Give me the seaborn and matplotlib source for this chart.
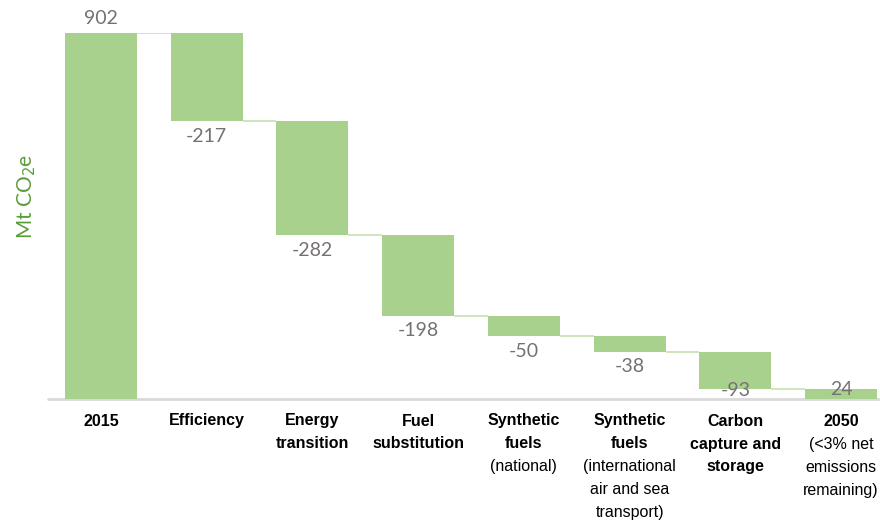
import numpy as np
import pandas as pd
import matplotlib
matplotlib.use("Agg")
import matplotlib.pyplot as plt
import matplotlib.transforms as mtransforms
import seaborn as sns

# ---- data ----
categories = ["2015", "Efficiency", "Energy transition", "Fuel substitution",
              "Synthetic fuels (national)",
              "Synthetic fuels (international air and sea transport)",
              "Carbon capture and storage", "2050"]
values = [902, -217, -282, -198, -50, -38, -93, 24]
label_bold = ["2015", "Efficiency", "Energy\ntransition", "Fuel\nsubstitution",
              "Synthetic\nfuels", "Synthetic\nfuels", "Carbon\ncapture and\nstorage", "2050"]
label_normal = ["", "", "", "", "(national)", "(international\nair and sea\ntransport)",
                "", "(<3% net\nemissions\nremaining)"]
total_flags = [True, False, False, False, False, False, False, True]

# ---- waterfall geometry from data ----
bottoms, heights, levels = [], [], []
running = 0
for v, is_total in zip(values, total_flags):
    if is_total:
        bottoms.append(0); heights.append(v); running = v
    else:
        new = running + v
        bottoms.append(min(running, new)); heights.append(abs(v)); running = new
    levels.append(running)

df = pd.DataFrame({"cat": categories, "height": heights})

sns.set_style("white")
plt.rcParams["font.family"] = ["Liberation Sans", "DejaVu Sans"]

W, H = 880, 523
fig = plt.figure(figsize=(W / 100, H / 100), dpi=100)
ax_left, ax_right = 48, 894
ax_top, ax_bot = 33, 399
ax = fig.add_axes([ax_left / W, 1 - ax_bot / H, (ax_right - ax_left) / W, (ax_bot - ax_top) / H])

bar_color = "#a9d18e"
sns.barplot(data=df, x="cat", y="height", order=categories, bottom=bottoms,
            color=bar_color, saturation=1, width=0.68, errorbar=None, ax=ax,
            edgecolor="none", linewidth=0)

ax.set_xlim(-0.5, len(categories) - 0.5)
ax.set_ylim(0, values[0])
for s in ax.spines.values():
    s.set_visible(False)
ax.set_yticks([])
ax.set_xticks(range(len(categories)))
ax.set_xticklabels([""] * len(categories))
ax.tick_params(axis="x", length=0)
ax.set_xlabel("")
ax.set_ylabel("")

# baseline
ax.axhline(0, color="#d9d9d9", lw=2, clip_on=False, zorder=0)

# connectors
hw = 0.34
for i in range(len(categories) - 1):
    ax.plot([i + hw, i + 1 - hw], [levels[i], levels[i]], color="#c5e0b4", lw=1.2,
            zorder=1, solid_capstyle="butt")

# value labels
px_per_unit = (ax_bot - ax_top) / values[0]
vfont = ["Lato", "DejaVu Sans"]
for i, (v, b, h) in enumerate(zip(values, bottoms, heights)):
    if i == 0:
        y = b + h + 15 / px_per_unit
    elif i == len(values) - 1:
        y = b + h + 0 / px_per_unit
    else:
        y = max(b - 15 / px_per_unit, 22)
    ax.text(i, y, f"{v}", ha="center", va="center", fontsize=14, color="#767171",
            family=vfont, clip_on=False, zorder=3)

# category labels
trans = mtransforms.blended_transform_factory(ax.transData, fig.transFigure)
row0 = 421
row_step = 23
for i, (bt, nt) in enumerate(zip(label_bold, label_normal)):
    lines = [(l, "bold") for l in bt.split("\n")] + \
            ([(l, "normal") for l in nt.split("\n")] if nt else [])
    for r, (txt, wt) in enumerate(lines):
        ypx = row0 + r * row_step
        ax.text(i, 1 - ypx / H, txt, transform=trans, ha="center", va="center",
                fontsize=11.5, fontweight=wt, color="#000000", clip_on=False)

# y label
fig.text(27 / W, 1 - 196 / H, "Mt CO$_2$e", rotation=90, ha="center", va="center",
         fontsize=15, color="#5a9e3a", family=vfont)

fig.savefig("out.png", dpi=100)
